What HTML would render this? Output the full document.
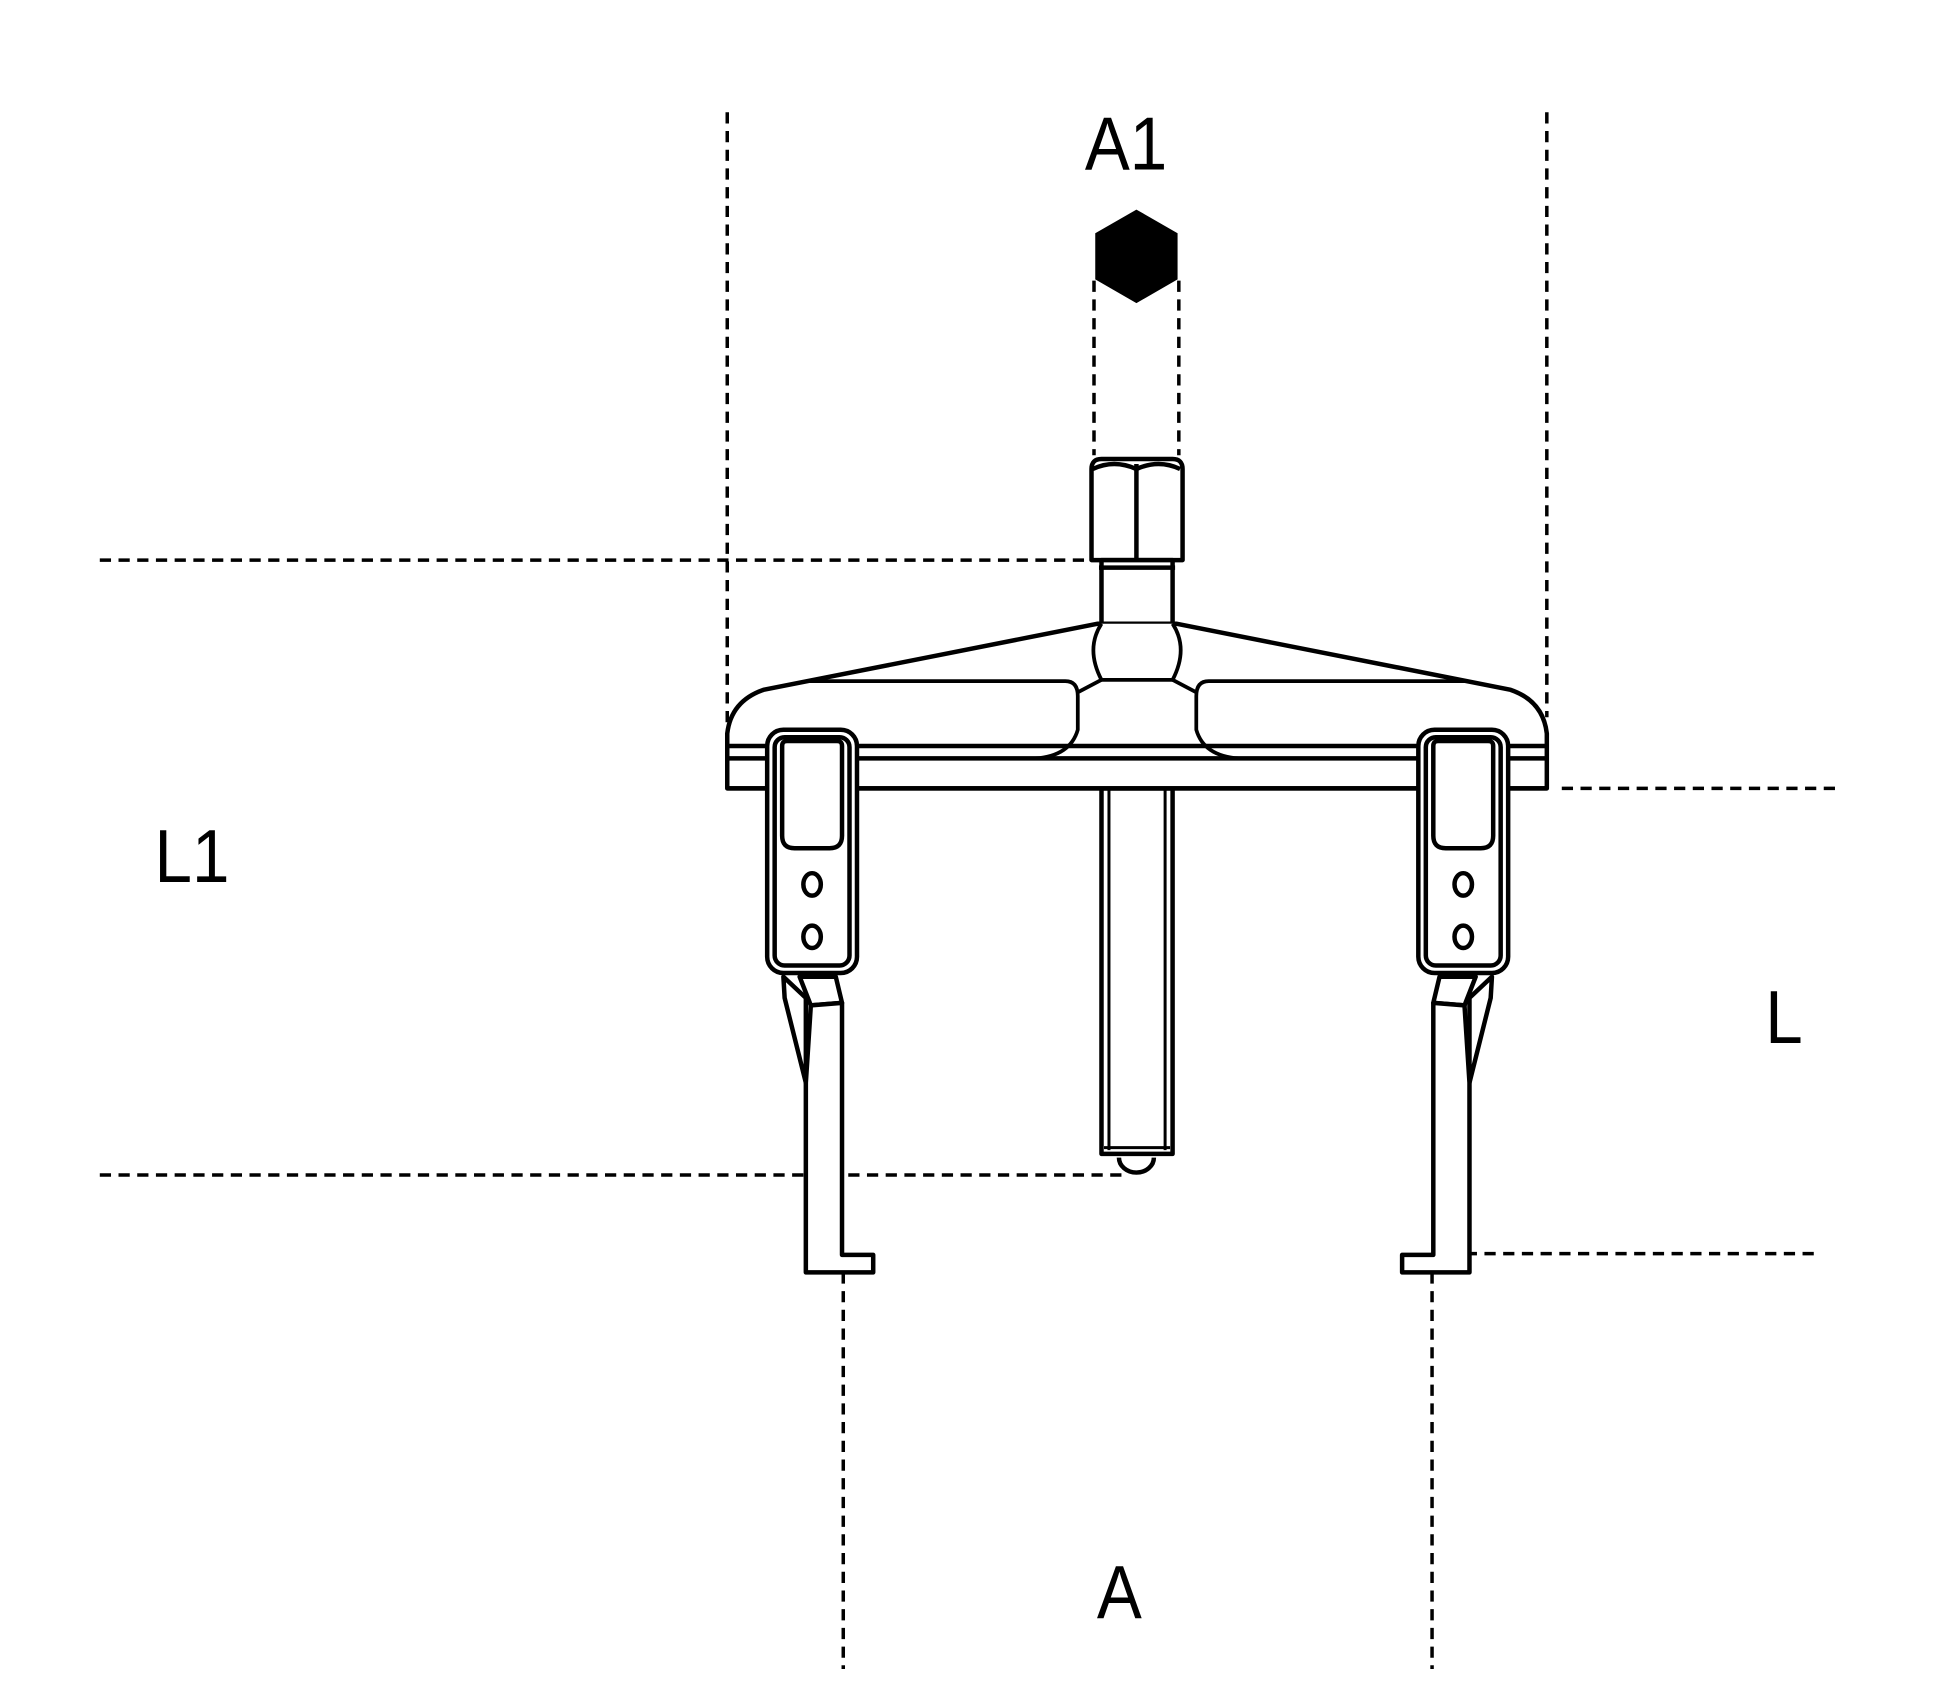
<!DOCTYPE html>
<html><head><style>html,body{margin:0;padding:0;background:#fff}svg{display:block}</style></head>
<body>
<svg width="1946" height="1684" viewBox="0 0 1560 1350" preserveAspectRatio="none" xmlns="http://www.w3.org/2000/svg">
<g fill="none" stroke="#000" stroke-width="2.8" stroke-dasharray="9,6">
<line x1="583" y1="90" x2="583" y2="580"/>
<line x1="1240" y1="90" x2="1240" y2="575"/>
<line x1="676" y1="1020" x2="676" y2="1338"/>
<line x1="1148" y1="1020" x2="1148" y2="1338"/>
<line x1="80" y1="449" x2="874" y2="449"/>
<line x1="80" y1="942" x2="900" y2="942"/>
<line x1="1252" y1="632" x2="1472" y2="632"/>
<line x1="1160" y1="1005" x2="1460" y2="1005"/>
<line x1="877" y1="225" x2="877" y2="365"/>
<line x1="945" y1="225" x2="945" y2="365"/>
</g>
<g font-family="Liberation Sans, sans-serif" font-size="60" fill="#000" text-anchor="middle" transform="scale(0.9,1)">
<text x="1003" y="136">A1</text>
<text x="171" y="707">L1</text>
<text x="1589" y="836">L</text>
<text x="997" y="1297">A</text>
</g>
<polygon points="911,168 944,187 944,224 911,243 878,224 878,187" fill="#000"/>
<g fill="#fff" stroke="#000" stroke-width="3.6" stroke-linejoin="round">
<path d="M875,449 L875,376 Q875,368 883,368 L940,368 Q948,368 948,376 L948,449 Z"/>
<line x1="911" y1="372" x2="911" y2="449"/>
<path d="M876,376 Q893,368 911,376 Q929,368 946,376" fill="none"/>
<rect x="883" y="449" width="57" height="51"/>
<line x1="881" y1="455" x2="942" y2="455"/>
<rect x="883" y="632" width="57" height="293"/>
<line x1="889" y1="632" x2="889" y2="922" stroke-width="2.4"/>
<line x1="934" y1="632" x2="934" y2="922" stroke-width="2.4"/>
<line x1="885" y1="920" x2="938" y2="920" stroke-width="2.4"/>
<path d="M897,928 A14,12 0 0 0 925,928"/>
<path d="M583,632 L583,588 Q586,562 612,553 L880,500 L943,500 L1211,553 Q1237,562 1240,588 L1240,632 Z"/>
<line x1="583" y1="598" x2="1240" y2="598"/>
<line x1="583" y1="608" x2="1240" y2="608"/>
<line x1="583" y1="632" x2="1240" y2="632"/>
<path d="M648,546 L854,546 Q864,546 864,558 L864,585 Q858,606 830,608" fill="none" stroke-width="3"/>
<path d="M1175,546 L969,546 Q959,546 959,558 L959,585 Q965,606 993,608" fill="none" stroke-width="3"/>
<path d="M883,500 Q870,520 883,545 L940,545 Q953,520 940,500" stroke-width="3"/>
<line x1="883" y1="545" x2="864" y2="555" stroke-width="3"/>
<line x1="940" y1="545" x2="959" y2="555" stroke-width="3"/>
</g>
<g id="jaw" fill="#fff" stroke="#000" stroke-width="3.6" stroke-linejoin="round">
<rect x="615" y="585" width="72" height="195" rx="13"/>
<rect x="621" y="591" width="60" height="183" rx="8"/>
<path d="M627,598 Q627,594 631,594 L671,594 Q675,594 675,598 L675,670 Q675,680 665,680 L637,680 Q627,680 627,670 Z"/>
<ellipse cx="651" cy="709" rx="7" ry="9"/>
<ellipse cx="651" cy="751" rx="7" ry="9"/>
<path d="M628,783 L629,800 L646,868 L646,800 Z"/>
<path d="M641,783 L650,806 L675,804 L670,783 Z"/>
<path d="M650,806 L646,868 L646,1020 L700,1020 L700,1006 L675,1006 L675,804 Z"/>
</g>
<use href="#jaw" transform="translate(1824,0) scale(-1,1)"/>
</svg>
</body></html>
